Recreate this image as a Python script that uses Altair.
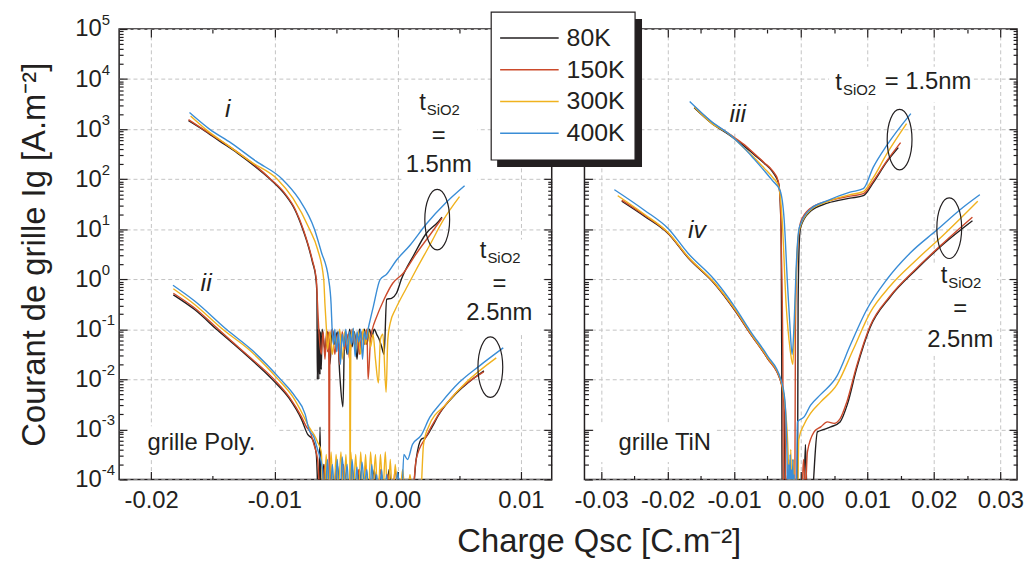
import altair as alt
import pandas as pd

FONT = "Liberation Sans"
INK = "#231f20"
GRID = "#c4c4c4"
TEMPS = ["80K", "150K", "300K", "400K"]
COLORS = ["#231f20", "#cc4a2b", "#f0b21e", "#3a8dd6"]

# ---------------- data: (Qsc [C/m2], log10 Ig [A/m2]) ----------------
# grille Poly., curve i (tSiO2 = 1.5 nm)
POLY_I_80K = [(-0.01697, 3.17), (-0.0158, 2.99), (-0.0145, 2.77), (-0.013, 2.52), (-0.0116, 2.26), (-0.0103, 1.99),
              (-0.0092, 1.71), (-0.0083, 1.37), (-0.0077, 1.0), (-0.0072, 0.62), (-0.0069, 0.33), (-0.00665, 0.05),
              (-0.00655, -0.3), (-0.00652, -2.0), (-0.00645, -1.0), (-0.0064, -2.0), (-0.00635, -1.0), (-0.0063, -1.9),
              (-0.00625, -1.05), (-0.0062, -1.8), (-0.00613, -1.0), (-0.0059, -1.4), (-0.0057, -1.05), (-0.0055, -1.7),
              (-0.0053, -1.0), (-0.0051, -1.3), (-0.0049, -1.05), (-0.0047, -1.9), (-0.00444, -2.55), (-0.0043, -1.1),
              (-0.0041, -1.5), (-0.0039, -1.0), (-0.0037, -1.35), (-0.0035, -1.05), (-0.0033, -1.6), (-0.0031, -1.0),
              (-0.0029, -1.2), (-0.0027, -1.0), (-0.0025, -1.3), (-0.0023, -1.0), (-0.0021, -1.15), (-0.0019, -1.0),
              (-0.0017, -1.1), (-0.0015, -1.2), (-0.0013, -1.35), (-0.0011, -1.5), (-0.0009, -0.4), (-0.0005, -0.38),
              (-0.0001, -0.28), (0.0003, 0.0), (0.0013, 0.48), (0.0023, 0.91), (0.0033, 1.15), (0.0036, 1.24)]
POLY_I_150K = [(-0.01697, 3.19), (-0.0158, 3.0), (-0.0145, 2.79), (-0.013, 2.54), (-0.0116, 2.28), (-0.0103, 2.0),
               (-0.0092, 1.73), (-0.0083, 1.39), (-0.00766, 1.0), (-0.0072, 0.64), (-0.0069, 0.36), (-0.0066, 0.0),
               (-0.0065, -0.5), (-0.0064, -1.0), (-0.0062, -1.5), (-0.00605, -1.05), (-0.0059, -1.6), (-0.00575, -1.0),
               (-0.0057, -1.45), (-0.0056, -1.05), (-0.00555, -4.6), (-0.0055, -1.2), (-0.0053, -1.0), (-0.0051, -1.5),
               (-0.0049, -1.1), (-0.0047, -1.7), (-0.0045, -1.05), (-0.0043, -1.4), (-0.0041, -1.1), (-0.0039, -1.6),
               (-0.0037, -1.0), (-0.0035, -1.3), (-0.0033, -1.1), (-0.0031, -1.5), (-0.0029, -1.05), (-0.0027, -1.3),
               (-0.0025, -1.0), (-0.0024, -2.0), (-0.0022, -1.2), (-0.002, -0.95), (-0.0018, -0.81), (-0.0011, -0.4),
               (-0.0004, -0.08), (0.00045, 0.12), (0.00153, 0.52), (0.0026, 0.88), (0.0036, 1.22)]
POLY_I_300K = [(-0.0168, 3.26), (-0.0156, 3.0), (-0.0138, 2.68), (-0.0118, 2.33), (-0.00976, 2.0), (-0.0085, 1.62),
               (-0.00715, 1.0), (-0.0065, 0.6), (-0.006, 0.0), (-0.0059, -0.5), (-0.00578, -1.0), (-0.0057, -1.4),
               (-0.0055, -1.05), (-0.0053, -1.5), (-0.0051, -1.1), (-0.0049, -1.3), (-0.0047, -1.0), (-0.0045, -1.6),
               (-0.0043, -1.05), (-0.0041, -1.3), (-0.0039, -1.1), (-0.00386, -4.6), (-0.0038, -1.2), (-0.0036, -1.0),
               (-0.0034, -1.4), (-0.0032, -1.05), (-0.003, -1.5), (-0.0028, -1.0), (-0.0026, -1.3), (-0.0024, -0.98),
               (-0.0022, -1.35), (-0.002, -1.1), (-0.0018, -1.6), (-0.00156, -2.07), (-0.0014, -1.2), (-0.0012, -1.1),
               (-0.00094, -2.26), (-0.0008, -1.2), (-0.0006, -0.87), (-0.0002, -0.61), (0.0002, -0.41), (0.0007, -0.18),
               (0.0015, 0.19), (0.0026, 0.68), (0.0037, 1.18), (0.00502, 1.65)]
POLY_I_400K = [(-0.01689, 3.33), (-0.01527, 3.0), (-0.0135, 2.72), (-0.0115, 2.36), (-0.00936, 2.0), (-0.008, 1.6),
               (-0.00675, 1.0), (-0.0062, 0.55), (-0.0056, 0.0), (-0.0054, -0.5), (-0.00532, -1.0), (-0.0052, -1.3),
               (-0.0051, -1.0), (-0.00495, -1.45), (-0.0048, -1.05), (-0.00465, -1.7), (-0.0045, -1.1), (-0.00435, -1.35),
               (-0.0042, -1.0), (-0.00405, -1.5), (-0.0039, -1.05), (-0.00375, -1.3), (-0.0036, -0.98), (-0.00345, -1.55),
               (-0.0033, -1.05), (-0.00315, -1.25), (-0.003, -1.0), (-0.00285, -1.6), (-0.0027, -1.05), (-0.00255, -1.2),
               (-0.0024, -1.0), (-0.00223, -0.81), (-0.00197, -0.54), (-0.00143, -0.01), (-0.0009, 0.1), (-0.0001, 0.38),
               (0.001, 0.68), (0.00234, 1.11), (0.00395, 1.54), (0.00543, 1.87)]

# grille Poly., curve ii (tSiO2 = 2.5 nm)
POLY_II_80K = [(-0.0182, -0.31), (-0.0165, -0.6), (-0.0146, -1.02), (-0.0125, -1.47), (-0.0101, -2.02), (-0.0088, -2.38),
               (-0.0078, -2.8), (-0.0073, -3.1), (-0.0069, -3.2), (-0.0066, -3.5), (-0.0064, -4.6), (-0.0063, -2.95),
               (-0.0062, -4.6), (-0.006, -3.7), (-0.0058, -4.6), (-0.0055, -3.8), (-0.0052, -4.6), (-0.0049, -3.7),
               (-0.0046, -4.6), (-0.0043, -3.85), (-0.004, -4.6), (-0.0037, -3.75), (-0.0034, -4.6), (-0.0031, -3.8),
               (-0.0028, -4.6), (-0.0025, -3.9), (-0.0022, -4.6), (-0.0019, -3.8), (-0.0016, -4.6), (-0.0013, -3.9),
               (-0.001, -4.6), (-0.0007, -3.8), (-0.0004, -4.6), (0.0, -3.9), (0.0004, -4.6), (0.0011, -4.6),
               (0.0015, -3.6), (0.0019, -3.2), (0.0023, -3.15), (0.0028, -2.95), (0.0033, -2.72), (0.0048, -2.27),
               (0.007, -1.83)]
POLY_II_150K = [(-0.0182, -0.28), (-0.0165, -0.57), (-0.01455, -1.0), (-0.0125, -1.45), (-0.01003, -2.0), (-0.0088, -2.35),
                (-0.0078, -2.75), (-0.0074, -2.95), (-0.0071, -3.05), (-0.0068, -3.3), (-0.0065, -3.6), (-0.0062, -4.6),
                (-0.0059, -3.7), (-0.0057, -4.6), (-0.0055, -3.6), (-0.0053, -4.6), (-0.005, -3.8), (-0.0047, -4.6),
                (-0.0044, -3.7), (-0.0041, -4.6), (-0.0038, -3.75), (-0.0035, -4.6), (-0.0032, -3.8), (-0.0029, -4.6),
                (-0.0026, -3.7), (-0.0023, -4.6), (-0.002, -3.9), (-0.0017, -4.6), (-0.0014, -3.8), (-0.0011, -4.6),
                (-0.0008, -3.9), (-0.0005, -4.6), (-0.0002, -3.8), (0.0001, -4.6), (0.0004, -3.9), (0.0007, -4.6),
                (0.0011, -4.6), (0.0015, -3.6), (0.0023, -3.15), (0.00327, -2.72), (0.00476, -2.26), (0.00698, -1.85)]
POLY_II_300K = [(-0.0182, -0.19), (-0.0165, -0.5), (-0.0142, -1.0), (-0.012, -1.42), (-0.0097, -2.0), (-0.0085, -2.35),
                (-0.0076, -2.75), (-0.0072, -2.95), (-0.0068, -3.1), (-0.0065, -3.25), (-0.0062, -3.45), (-0.006, -4.6),
                (-0.0058, -3.5), (-0.0056, -4.4), (-0.0054, -3.45), (-0.0052, -4.6), (-0.005, -3.5), (-0.0048, -4.2),
                (-0.0046, -3.45), (-0.0044, -4.6), (-0.0042, -3.5), (-0.004, -4.6), (-0.0038, -3.45), (-0.0036, -4.3),
                (-0.0034, -3.5), (-0.0032, -4.6), (-0.003, -3.45), (-0.0028, -4.4), (-0.0026, -3.5), (-0.0024, -4.6),
                (-0.0022, -3.45), (-0.002, -4.2), (-0.0018, -3.5), (-0.0016, -4.6), (-0.0014, -3.5), (-0.0012, -4.3),
                (-0.001, -3.45), (-0.0008, -4.6), (-0.0006, -3.6), (-0.0004, -4.6), (-0.0002, -3.7), (0.0001, -4.6),
                (0.0004, -3.8), (0.0007, -4.6), (0.001, -3.9), (0.0013, -4.6), (0.0018, -4.6), (0.0021, -3.3),
                (0.0025, -2.95), (0.00395, -2.49), (0.00556, -2.06), (0.008, -1.57)]
POLY_II_400K = [(-0.01823, -0.12), (-0.0165, -0.43), (-0.0139, -1.0), (-0.0118, -1.42), (-0.0095, -2.0), (-0.0083, -2.35),
                (-0.0075, -2.7), (-0.0072, -3.0), (-0.0068, -3.15), (-0.0065, -3.4), (-0.0061, -3.8), (-0.0059, -4.6),
                (-0.0057, -3.6), (-0.0055, -4.5), (-0.0053, -3.7), (-0.0051, -4.4), (-0.0049, -3.6), (-0.0047, -4.6),
                (-0.0045, -3.55), (-0.0043, -4.2), (-0.0041, -3.7), (-0.0039, -4.6), (-0.0037, -3.6), (-0.0035, -4.3),
                (-0.0033, -3.75), (-0.0031, -4.6), (-0.0029, -3.65), (-0.0027, -4.1), (-0.0025, -3.8), (-0.0023, -4.6),
                (-0.0021, -3.7), (-0.0019, -4.4), (-0.0017, -3.9), (-0.0015, -4.6), (-0.0013, -3.8), (-0.0011, -4.6),
                (-0.0009, -3.9), (-0.0007, -4.6), (-0.0005, -4.0), (-0.0003, -4.6), (0.0, -3.85), (0.0003, -4.6),
                (0.0005, -3.5), (0.0008, -3.6), (0.0012, -3.3), (0.0019, -3.12), (0.0026, -2.76), (0.00355, -2.46),
                (0.005, -2.06), (0.00664, -1.73), (0.00857, -1.37)]

# grille TiN, curve iii (tSiO2 = 1.5 nm)
TIN_III_80K = [(-0.016, 3.43), (-0.0135, 3.13), (-0.01048, 2.86), (-0.0085, 2.66), (-0.007, 2.49), (-0.0055, 2.32),
               (-0.0042, 2.14), (-0.0033, 1.9), (-0.00295, 1.0), (-0.00286, -1.5), (-0.0028, -4.6), (-0.0005, -4.6),
               (-0.0004, -0.5), (-0.0002, 0.8), (0.0, 1.05), (0.00146, 1.36), (0.004, 1.52), (0.0074, 1.62),
               (0.0094, 1.67), (0.0109, 1.93), (0.0129, 2.34), (0.01466, 2.63)]
TIN_III_150K = [(-0.016, 3.45), (-0.0135, 3.15), (-0.01048, 2.88), (-0.0085, 2.69), (-0.007, 2.51), (-0.0055, 2.33),
                (-0.00425, 2.17), (-0.0034, 1.97), (-0.0031, 1.6), (-0.0029, 0.5), (-0.0027, -1.5), (-0.0026, -4.6),
                (-0.0009, -4.6), (-0.0008, -1.0), (-0.0006, 0.3), (-0.0003, 0.9), (0.0, 1.15), (0.00146, 1.42),
                (0.004, 1.56), (0.0074, 1.66), (0.0094, 1.71), (0.0109, 1.96), (0.0129, 2.36), (0.015, 2.73)]
TIN_III_300K = [(-0.016, 3.44), (-0.0135, 3.13), (-0.01048, 2.87), (-0.0085, 2.62), (-0.007, 2.43), (-0.0055, 2.22),
                (-0.0042, 2.03), (-0.0033, 1.85), (-0.0028, 1.2), (-0.0022, -0.5), (-0.0016, -1.4), (-0.0012, -1.7),
                (-0.001, -1.2), (-0.0007, 0.0), (-0.0004, 0.85), (0.0, 1.08), (0.00146, 1.38), (0.004, 1.55),
                (0.0074, 1.69), (0.0094, 1.75), (0.0109, 2.03), (0.0129, 2.5), (0.0159, 3.11)]
TIN_III_400K = [(-0.01669, 3.55), (-0.0135, 3.16), (-0.01048, 2.87), (-0.0085, 2.62), (-0.007, 2.4), (-0.0055, 2.17),
                (-0.00425, 1.97), (-0.0031, 1.77), (-0.0025, 1.2), (-0.002, -0.08), (-0.0016, -1.0), (-0.0013, -1.5),
                (-0.001, -0.9), (-0.0007, 0.2), (-0.0003, 0.98), (0.0, 1.11), (0.00146, 1.4), (0.004, 1.57),
                (0.0074, 1.74), (0.0094, 1.81), (0.0109, 2.24), (0.0129, 2.67), (0.01654, 3.31)]

# grille TiN, curve iv (tSiO2 = 2.5 nm)
TIN_IV_80K = [(-0.0269, 1.56), (-0.0235, 1.26), (-0.0199, 0.91), (-0.01694, 0.43), (-0.01296, -0.09), (-0.00997, -0.61),
              (-0.0075, -1.1), (-0.005, -1.58), (-0.003, -2.04), (-0.0025, -2.4), (-0.0023, -4.6), (-0.0019, -3.8),
              (-0.0017, -4.6), (0.0004, -4.6), (0.0007, -3.3), (0.001, -4.6), (0.0015, -4.6), (0.0025, -3.05),
              (0.0035, -3.0), (0.0045, -2.95), (0.0059, -2.85), (0.007, -2.5), (0.0084, -1.78), (0.0104, -0.97),
              (0.0134, -0.36), (0.0174, 0.2), (0.0214, 0.7), (0.0258, 1.17)]
TIN_IV_150K = [(-0.0269, 1.58), (-0.0235, 1.28), (-0.0199, 0.92), (-0.01694, 0.44), (-0.01296, -0.08), (-0.00997, -0.6),
               (-0.0075, -1.1), (-0.005, -1.58), (-0.003, -2.05), (-0.0024, -2.6), (-0.0022, -4.6), (-0.0018, -3.6),
               (-0.0016, -4.6), (0.0001, -4.6), (0.0004, -3.6), (0.0007, -4.2), (0.001, -3.45), (0.002, -3.05),
               (0.003, -2.95), (0.004, -2.85), (0.005, -2.88), (0.0059, -2.79), (0.0069, -2.46), (0.0084, -1.73),
               (0.0104, -0.94), (0.0134, -0.34), (0.0174, 0.22), (0.0214, 0.72), (0.0258, 1.24)]
TIN_IV_300K = [(-0.0275, 1.67), (-0.0235, 1.3), (-0.0199, 0.93), (-0.01694, 0.45), (-0.01296, -0.07), (-0.00997, -0.58),
               (-0.0075, -1.08), (-0.005, -1.56), (-0.003, -2.02), (-0.0023, -2.6), (-0.0019, -3.5), (-0.0017, -4.6),
               (-0.0015, -3.4), (-0.0013, -4.6), (-0.0011, -3.6), (-0.0009, -4.6), (-0.0005, -4.6), (-0.0003, -3.2),
               (0.0005, -2.9), (0.00146, -2.68), (0.003, -2.45), (0.00545, -2.1), (0.0079, -1.4), (0.0104, -0.67),
               (0.0134, -0.14), (0.0174, 0.39), (0.0214, 0.88), (0.0266, 1.56)]
TIN_IV_400K = [(-0.028, 1.79), (-0.0235, 1.38), (-0.0199, 1.01), (-0.01694, 0.52), (-0.01296, -0.01), (-0.00997, -0.54),
               (-0.0075, -1.05), (-0.005, -1.53), (-0.003, -2.0), (-0.0024, -2.4), (-0.0021, -3.3), (-0.0019, -4.6),
               (-0.0018, -3.7), (-0.0017, -4.6), (-0.0016, -3.5), (-0.0015, -4.6), (-0.0014, -3.8), (-0.0013, -4.6),
               (-0.0012, -3.6), (-0.0011, -4.6), (-0.001, -3.9), (-0.0009, -4.6), (-0.0007, -4.6), (-0.0005, -2.85),
               (0.0005, -2.75), (0.00146, -2.52), (0.003, -2.3), (0.00545, -1.93), (0.0074, -1.33), (0.0099, -0.61),
               (0.0129, -0.01), (0.0164, 0.52), (0.0204, 0.98), (0.0244, 1.44), (0.0269, 1.69)]

# annotations: (text, style, Qsc, log10 Ig)
LEFT_ANN = [("i", "roman", -0.01379, 3.395), ("ii", "roman", -0.01554, -0.077),
            ("grille Poly.", "left", -0.0203, -3.27),
            ("t", "t", 0.00333, 3.375), ("SiO2", "sub", 0.00333, 3.375),
            ("=", "label", 0.00333, 2.87), ("1.5nm", "label", 0.00333, 2.29),
            ("t", "t", 0.00825, 0.42), ("SiO2", "sub", 0.00825, 0.42),
            ("=", "label", 0.00825, -0.1), ("2.5nm", "label", 0.00825, -0.67)]
RIGHT_ANN = [("iii", "roman", -0.00948, 3.296), ("iv", "roman", -0.0156, 0.974),
             ("grille TiN", "left", -0.02739, -3.27),
             ("t", "t", 0.00813, 3.772), ("SiO2", "sub", 0.00813, 3.772), ("= 1.5nm", "left", 0.01262, 3.95),
             ("t", "t", 0.02396, -0.08), ("SiO2", "sub", 0.02396, -0.08),
             ("=", "label", 0.02396, -0.6), ("2.5nm", "label", 0.02396, -1.22)]
LEFT_ELLIPSES = [(0.00321, 1.192), (0.00752, -1.754)]
RIGHT_ELLIPSES = [(0.01485, 2.79), (0.02231, 1.02)]
# white boxes behind annotation texts: (Qsc from, Qsc to, log10 Ig from, log10 Ig to)
LEFT_BOXES = [(-0.01635, -0.01465, -0.315, 0.2), (-0.02191, -0.00965, -3.61, -2.935),
              (0.00035, 0.00648, 1.907, 3.79), (0.00527, 0.01156, -1.089, 0.796)]
RIGHT_BOXES = [(-0.01127, -0.00769, 2.938, 3.573), (-0.01724, -0.01381, 0.716, 1.232),
               (-0.03112, -0.01276, -3.65, -2.855), (0.00425, 0.0256, 3.534, 4.248),
               (0.01858, 0.02948, -1.505, 0.32)]

X_LEFT = [-0.0226, 0.0125]
X_RIGHT = [-0.0325, 0.0325]
X_LEFT_MAJOR = [-0.02, -0.01, 0.0, 0.01]
X_LEFT_MINOR = [-0.015, -0.005, 0.005]
X_RIGHT_MAJOR = [-0.03, -0.02, -0.01, 0.0, 0.01, 0.02, 0.03]
X_RIGHT_MINOR = [-0.025, -0.015, -0.005, 0.005, 0.015, 0.025]
Y_DOMAIN = [1e-4, 1e5]
Y_MAJOR = [1e-4, 1e-3, 1e-2, 1e-1, 1.0, 10.0, 1e2, 1e3, 1e4, 1e5]
Y_MINOR = [m * d for d in Y_MAJOR[:-1] for m in range(2, 10)]

W, H = 436, 454

STYLES = {
    "roman": dict(fontSize=25, fontStyle="italic", align="center", baseline="middle"),
    "label": dict(fontSize=24, align="center", baseline="middle"),
    "left": dict(fontSize=24, align="left", baseline="middle"),
    "t": dict(fontSize=24, align="right", baseline="alphabetic", dx=-13),
    "sub": dict(fontSize=15, align="left", baseline="alphabetic", dx=-12, dy=5),
}

X_LABEL_EXPR = "datum.value < 0 ? '-' + format(-datum.value, '.2f') : format(datum.value, '.2f')"
EXP_EXPR = "(round(log(datum.value) / LN10) < 0 ? '-' : '') + abs(round(log(datum.value) / LN10))"
ELLIPSE = ("M0,-1C0.2264,-1 0.41,-0.5523 0.41,0C0.41,0.5523 0.2264,1 0,1"
           "C-0.2264,1 -0.41,0.5523 -0.41,0C-0.41,-0.5523 -0.2264,-1 0,-1Z")


def lines_frame(series):
    rows = []
    for sid, temp, pts in series:
        for i, (x, lg) in enumerate(pts):
            rows.append({"sid": sid, "temp": temp, "i": i, "x": x, "Ig": 10.0 ** lg})
    return pd.DataFrame(rows)


def ann_frame(ann):
    return pd.DataFrame([{"text": t, "style": s, "x": x, "Ig": 10.0 ** lg} for t, s, x, lg in ann])


def tick_axis(orient, values, size, offset):
    return alt.Axis(orient=orient, values=values, tickSize=size, offset=offset, labels=False,
                    domain=False, grid=False, ticks=True, tickColor=INK, tickWidth=1.2, title=None)


def build_panel(df, ann, ellipses, boxes, xdom, xmaj, xmin, with_labels, extra=()):
    xs = alt.Scale(domain=xdom, nice=False, zero=False)
    ys = alt.Scale(type="log", domain=Y_DOMAIN, nice=False)
    cs = alt.Scale(domain=TEMPS, range=COLORS)
    grid_kw = dict(grid=True, gridColor=GRID, gridDash=[4, 3], gridWidth=1)
    x_lab = alt.Axis(orient="bottom", values=xmaj, labelExpr=X_LABEL_EXPR, labelFont=FONT, labelFontSize=24,
                     labelColor=INK, labelPadding=9, labelFlush=False, labelOverlap=False, ticks=False,
                     tickSize=0, domain=False, title=None, **grid_kw)
    if with_labels:
        y_lab = alt.Axis(orient="left", values=Y_MAJOR, labelExpr="'10'", labelFont=FONT, labelFontSize=24,
                         labelColor=INK, labelPadding=18, labelOverlap=False, ticks=False, tickSize=0,
                         domain=False, title="Courant de grille Ig [A.m⁻²]", titleFont=FONT, titleFontSize=33,
                         titleFontWeight="normal", titleColor=INK, titlePadding=24, **grid_kw)
    else:
        y_lab = alt.Axis(orient="left", values=Y_MAJOR, labels=False, ticks=False, domain=False,
                         title=None, **grid_kw)

    x_axes = [tick_axis("top", xmaj, 8, -H), tick_axis("top", xmin, 4, -H),
              tick_axis("bottom", xmaj, 8, -H), tick_axis("bottom", xmin, 4, -H)]
    y_axes = [tick_axis("right", Y_MAJOR, 8, -W), tick_axis("right", Y_MINOR, 4, -W),
              tick_axis("left", Y_MAJOR, 8, -W), tick_axis("left", Y_MINOR, 4, -W)]
    if with_labels:
        y_axes.append(alt.Axis(orient="left", values=Y_MAJOR, labelExpr=EXP_EXPR, labelFont=FONT,
                               labelFontSize=15, labelColor=INK, labelAlign="left", labelPadding=18,
                               labelOffset=-10, labelOverlap=False, ticks=False, tickSize=0, domain=False,
                               grid=False, title=None))

    ghost_df = pd.DataFrame({"x": [xdom[0]], "Ig": [1.0]})
    layers = []
    # white boxes behind the annotations (they interrupt the grid, as in the original)
    bdf = pd.DataFrame([{"x": a, "x2": b, "Ig": 10.0 ** c, "Ig2": 10.0 ** d} for a, b, c, d in boxes])
    layers.append(alt.Chart(bdf).mark_rect(color="white").encode(
        x=alt.X("x:Q", scale=xs, axis=None), x2="x2:Q",
        y=alt.Y("Ig:Q", scale=ys, axis=None), y2="Ig2:Q"))
    # data curves
    layers.append(alt.Chart(df).mark_line(strokeWidth=1.4, clip=True, interpolate="monotone").encode(
        x=alt.X("x:Q", scale=xs, axis=x_lab),
        y=alt.Y("Ig:Q", scale=ys, axis=y_lab),
        color=alt.Color("temp:N", scale=cs, legend=None),
        detail="sid:N",
        order="i:Q"))
    # tick-only axes (ticks pointing inward on all four sides)
    n = max(len(x_axes), len(y_axes))
    for k in range(n):
        xa = x_axes[k] if k < len(x_axes) else None
        ya = y_axes[k] if k < len(y_axes) else None
        layers.append(alt.Chart(ghost_df).mark_point(opacity=0).encode(
            x=alt.X("x:Q", scale=xs, axis=xa), y=alt.Y("Ig:Q", scale=ys, axis=ya)))
    # annotation texts
    adf = ann_frame(ann)
    for style, kw in STYLES.items():
        sub = adf[adf["style"] == style]
        if len(sub) == 0:
            continue
        layers.append(alt.Chart(sub).mark_text(font=FONT, color=INK, **kw).encode(
            x=alt.X("x:Q", scale=xs, axis=None), y=alt.Y("Ig:Q", scale=ys, axis=None), text="text:N"))
    # ellipses
    edf = pd.DataFrame([{"x": x, "Ig": 10.0 ** lg} for x, lg in ellipses])
    layers.append(alt.Chart(edf).mark_point(shape=ELLIPSE, size=3721, filled=False, stroke=INK,
                                            strokeWidth=1.2, opacity=1).encode(
        x=alt.X("x:Q", scale=xs, axis=None), y=alt.Y("Ig:Q", scale=ys, axis=None)))
    layers.extend(extra)
    return alt.layer(*layers).resolve_axis(x="independent", y="independent").properties(width=W, height=H)


# legend box drawn inside the right panel (pixel offsets from its top-left corner)
one = pd.DataFrame({"a": [0]})
legend_df = pd.DataFrame({"temp": TEMPS, "ly": [9 + 32 * k for k in range(len(TEMPS))]})
cs_leg = alt.Scale(domain=TEMPS, range=COLORS)
legend_layers = [
    alt.Chart(one).mark_rect(color=INK).encode(
        x=alt.value(-88), x2=alt.value(58), y=alt.value(-10), y2=alt.value(139)),
    alt.Chart(one).mark_rect(fill="white", stroke=INK, strokeWidth=1.2).encode(
        x=alt.value(-94), x2=alt.value(51), y=alt.value(-17), y2=alt.value(132)),
    alt.Chart(legend_df).mark_rule(strokeWidth=1.6).encode(
        x=alt.value(-85), x2=alt.value(-26), y=alt.Y("ly:Q", scale=None, axis=None),
        color=alt.Color("temp:N", scale=cs_leg, legend=None)),
    alt.Chart(legend_df).mark_text(font=FONT, fontSize=25, color=INK, align="left", baseline="middle").encode(
        x=alt.value(-18), y=alt.Y("ly:Q", scale=None, axis=None), text="temp:N"),
]

left_df = lines_frame([
    ("i80", "80K", POLY_I_80K), ("ii80", "80K", POLY_II_80K),
    ("i150", "150K", POLY_I_150K), ("ii150", "150K", POLY_II_150K),
    ("i300", "300K", POLY_I_300K), ("ii300", "300K", POLY_II_300K),
    ("i400", "400K", POLY_I_400K), ("ii400", "400K", POLY_II_400K),
])
right_df = lines_frame([
    ("iii80", "80K", TIN_III_80K), ("iv80", "80K", TIN_IV_80K),
    ("iii150", "150K", TIN_III_150K), ("iv150", "150K", TIN_IV_150K),
    ("iii300", "300K", TIN_III_300K), ("iv300", "300K", TIN_IV_300K),
    ("iii400", "400K", TIN_III_400K), ("iv400", "400K", TIN_IV_400K),
])

left = build_panel(left_df, LEFT_ANN, LEFT_ELLIPSES, LEFT_BOXES, X_LEFT, X_LEFT_MAJOR, X_LEFT_MINOR, True)
right = build_panel(right_df, RIGHT_ANN, RIGHT_ELLIPSES, RIGHT_BOXES, X_RIGHT, X_RIGHT_MAJOR, X_RIGHT_MINOR,
                    False, extra=legend_layers)

chart = alt.hconcat(left, right, spacing=33, bounds="flush").properties(
    title=alt.TitleParams(text="Charge Qsc [C.m⁻²]", orient="bottom", anchor="middle", font=FONT,
                          fontSize=33, fontWeight="normal", color=INK, offset=13, dx=79),
    padding={"left": 9, "top": 0, "right": 0, "bottom": 0},
).configure_view(stroke=INK, strokeWidth=1.5)

chart.save("out.html", embed_options={"renderer": "svg", "actions": False})
